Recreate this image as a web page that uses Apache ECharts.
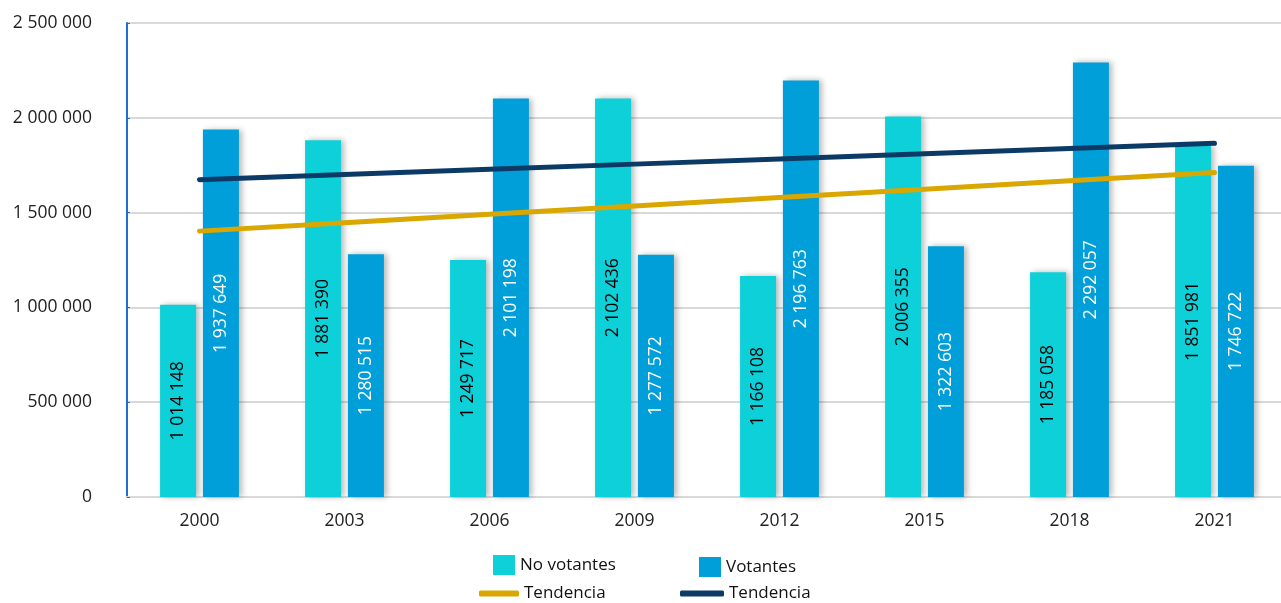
<!DOCTYPE html>
<html>
<head>
<meta charset="utf-8">
<script src="https://cdn.jsdelivr.net/npm/echarts@6/dist/echarts.min.js"></script>
<style>
  html, body { margin: 0; padding: 0; background: #fff; }
  #chart { width: 1281px; height: 603px; }
</style>
</head>
<body>
<div id="chart"></div>
<script>
// años de elección
const years = ['2000', '2003', '2006', '2009', '2012', '2015', '2018', '2021']

// valores de las barras
const noVotantes = [1014148, 1881390, 1249717, 2102436, 1166108, 2006355, 1185058, 1851981]
const votantes = [1937649, 1280515, 2101198, 1277572, 2196763, 1322603, 2292057, 1746722]

// líneas de tendencia
const tendenciaNoVotantes = [1402284, 1446531, 1490778, 1535025, 1579272, 1623519, 1667766, 1712013]
const tendenciaVotantes = [1673359, 1700795, 1728231, 1755667, 1783103, 1810539, 1837975, 1865411]

const fontFamily = 'Open Sans'
const fontSize = 17.5

// separador de miles con espacio
const fmt = (v) => String(v).replace(/\B(?=(\d{3})+(?!\d))/g, ' ')

const chart = echarts.init(document.getElementById('chart'))

const barShadow = {
  shadowColor: 'rgba(0,0,0,0.28)',
  shadowBlur: 6,
  shadowOffsetX: 3,
  shadowOffsetY: 0
}

const legendBase = {
  textStyle: { fontFamily: fontFamily, fontSize: 17, color: '#111' },
  selectedMode: false,
  padding: 0
}

const option = {
  animation: false,
  grid: {
    left: 127,
    top: 23,
    width: 1160,
    height: 474,
    outerBoundsMode: 'none',
    containLabel: false
  },
  legend: [
    Object.assign({}, legendBase, {
      left: 493, top: 555,
      itemWidth: 22, itemHeight: 20, itemGap: 0,
      data: [{ name: 'No votantes', icon: 'rect' }]
    }),
    Object.assign({}, legendBase, {
      left: 699, top: 557,
      itemWidth: 22, itemHeight: 20,
      data: [{ name: 'Votantes', icon: 'rect' }]
    }),
    Object.assign({}, legendBase, {
      left: 479, top: 585,
      itemWidth: 40, itemHeight: 6,
      formatter: (n) => n.trim(),
      data: [{ name: 'Tendencia', icon: 'roundRect' }]
    }),
    Object.assign({}, legendBase, {
      left: 680, top: 585,
      itemWidth: 44, itemHeight: 6,
      formatter: (n) => n.trim(),
      data: [{ name: 'Tendencia ', icon: 'roundRect' }]
    })
  ],
  xAxis: {
    type: 'category',
    data: years,
    axisLine: { lineStyle: { color: '#d9d9d9', width: 2 } },
    axisTick: { show: false },
    axisLabel: {
      fontFamily: fontFamily,
      fontSize: fontSize,
      color: '#222',
      margin: 15
    }
  },
  yAxis: {
    type: 'value',
    min: 0,
    max: 2500000,
    interval: 500000,
    axisLine: { show: true, lineStyle: { color: '#1f70d2', width: 2 } },
    axisTick: { show: true, inside: true, length: 3, lineStyle: { color: '#1f70d2' } },
    splitLine: { lineStyle: { color: '#d9d9d9', width: 2 } },
    axisLabel: {
      fontFamily: fontFamily,
      fontSize: fontSize,
      color: '#222',
      margin: 35,
      formatter: fmt
    }
  },
  series: [
    {
      name: 'No votantes',
      type: 'bar',
      data: noVotantes,
      barWidth: 36,
      barGap: '19%',
      itemStyle: Object.assign({ color: '#0dd0d8' }, barShadow),
      label: {
        show: true,
        position: 'inside',
        rotate: 90,
        fontFamily: fontFamily,
        fontSize: fontSize,
        color: '#000',
        formatter: (p) => fmt(p.value)
      }
    },
    {
      name: 'Votantes',
      type: 'bar',
      data: votantes,
      barWidth: 36,
      itemStyle: Object.assign({ color: '#009fd9' }, barShadow),
      label: {
        show: true,
        position: 'inside',
        rotate: 90,
        fontFamily: fontFamily,
        fontSize: fontSize,
        color: '#fff',
        formatter: (p) => fmt(p.value)
      }
    },
    {
      name: 'Tendencia',
      type: 'line',
      data: tendenciaNoVotantes,
      symbol: 'none',
      z: 5,
      lineStyle: { color: '#d9a700', width: 5, cap: 'round' },
      itemStyle: { color: '#d9a700' }
    },
    {
      name: 'Tendencia ',
      type: 'line',
      data: tendenciaVotantes,
      symbol: 'none',
      z: 5,
      lineStyle: { color: '#0b3a66', width: 5, cap: 'round' },
      itemStyle: { color: '#0b3a66' }
    }
  ]
}

chart.setOption(option)
</script>
</body>
</html>
